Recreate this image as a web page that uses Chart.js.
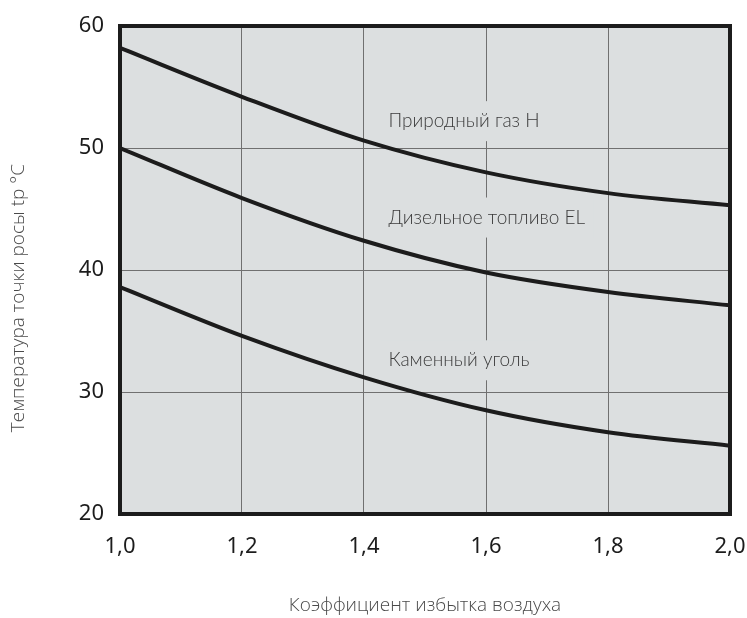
<!DOCTYPE html>
<html>
<head>
<meta charset="utf-8">
<script src="https://cdn.jsdelivr.net/npm/chart.js@4.4.1/dist/chart.umd.min.js"></script>
<style>
html,body{margin:0;padding:0;background:#fff;}
#wrap{width:747px;height:618px;}
</style>
</head>
<body>
<div id="wrap"><canvas id="c" width="747" height="618"></canvas></div>
<script>
const xValues = [1.0, 1.2, 1.4, 1.6, 1.8, 2.0];
const gasValues = [58.2, 54.2, 50.6, 48.0, 46.3, 45.3];
const dieselValues = [50.0, 45.9, 42.4, 39.8, 38.2, 37.1];
const coalValues = [38.6, 34.6, 31.2, 28.5, 26.7, 25.6];
const seriesNames = ['Природный газ H', 'Дизельное топливо EL', 'Каменный уголь'];
const labelX = [1.44, 1.44, 1.44];
const labelY = [52.2, 44.3, 32.6];
const xTicks = [1.0, 1.2, 1.4, 1.6, 1.8, 2.0];
const xTickLabels = ['1,0', '1,2', '1,4', '1,6', '1,8', '2,0'];
const yTicks = [20, 30, 40, 50, 60];
const xTitle = 'Коэффициент избытка воздуха';
const yTitle = 'Температура точки росы tp °C';

const BG = '#dcdfe0';
const toPts = arr => arr.map((v, i) => ({x: xValues[i], y: v}));

const areaPlugin = {
  id: 'areaPlugin',
  beforeDraw(chart) {
    const {ctx, chartArea: a} = chart;
    ctx.save();
    ctx.fillStyle = BG;
    ctx.fillRect(a.left, a.top, a.right - a.left, a.bottom - a.top);
    ctx.restore();
  },
  beforeDatasetsDraw(chart) {
    const {ctx, scales} = chart;
    ctx.save();
    ctx.font = '300 19px Lato';
    ctx.textBaseline = 'middle';
    ctx.textAlign = 'left';
    seriesNames.forEach((name, i) => {
      const px = scales.x.getPixelForValue(labelX[i]);
      const py = scales.y.getPixelForValue(labelY[i]);
      const w = ctx.measureText(name).width;
      ctx.fillStyle = BG;
      ctx.fillRect(px - 8, py - 20, w + 16, 40);
      ctx.fillStyle = '#3a3a3a';
      ctx.fillText(name, px, py);
    });
    ctx.restore();
  },
  afterDraw(chart) {
    const {ctx, chartArea: a} = chart;
    ctx.save();
    ctx.strokeStyle = '#1c1c1c';
    ctx.lineWidth = 4;
    ctx.strokeRect(a.left, a.top, a.right - a.left, a.bottom - a.top);
    ctx.fillStyle = '#4a4a4a';
    ctx.font = '300 19px "Open Sans"';
    ctx.textAlign = 'center';
    ctx.textBaseline = 'middle';
    ctx.fillText(xTitle, (a.left + a.right) / 2, 606);
    ctx.translate(19, 298);
    ctx.rotate(-Math.PI / 2);
    ctx.fillText(yTitle, 0, 0);
    ctx.restore();
  }
};

const lineDs = (label, data) => ({
  label, data: toPts(data),
  borderColor: '#1c1c1c', borderWidth: 4,
  pointRadius: 0, cubicInterpolationMode: 'monotone', fill: false
});

new Chart(document.getElementById('c'), {
  type: 'line',
  data: {
    datasets: [
      lineDs(seriesNames[0], gasValues),
      lineDs(seriesNames[1], dieselValues),
      lineDs(seriesNames[2], coalValues)
    ]
  },
  options: {
    responsive: false,
    animation: false,
    devicePixelRatio: 1,
    layout: {padding: {left: 0, top: 26, right: 17, bottom: 0}},
    plugins: {legend: {display: false}, tooltip: {enabled: false}},
    scales: {
      x: {
        type: 'linear', min: 1.0, max: 2.0,
        afterBuildTicks: s => { s.ticks = xTicks.map(v => ({value: v})); },
        afterFit: s => { s.height = 104; s.paddingLeft = 0; s.paddingRight = 0; },
        ticks: {
          callback: (v) => { const i = xTicks.findIndex(t => Math.abs(t - v) < 1e-6); return i >= 0 ? xTickLabels[i] : ''; },
          font: {family: 'Noto Sans', size: 22}, color: '#1c1c1c', padding: 20, maxRotation: 0
        },
        grid: {color: '#707070', lineWidth: 1, drawTicks: false},
        border: {display: false}
      },
      y: {
        type: 'linear', min: 20, max: 60,
        afterBuildTicks: s => { s.ticks = yTicks.map(v => ({value: v})); },
        afterFit: s => { s.width = 120; s.paddingTop = 0; s.paddingBottom = 0; },
        ticks: {font: {family: 'Noto Sans', size: 22}, color: '#1c1c1c', padding: 16},
        grid: {color: '#707070', lineWidth: 1, drawTicks: false},
        border: {display: false}
      }
    }
  },
  plugins: [areaPlugin]
});
</script>
</body>
</html>
